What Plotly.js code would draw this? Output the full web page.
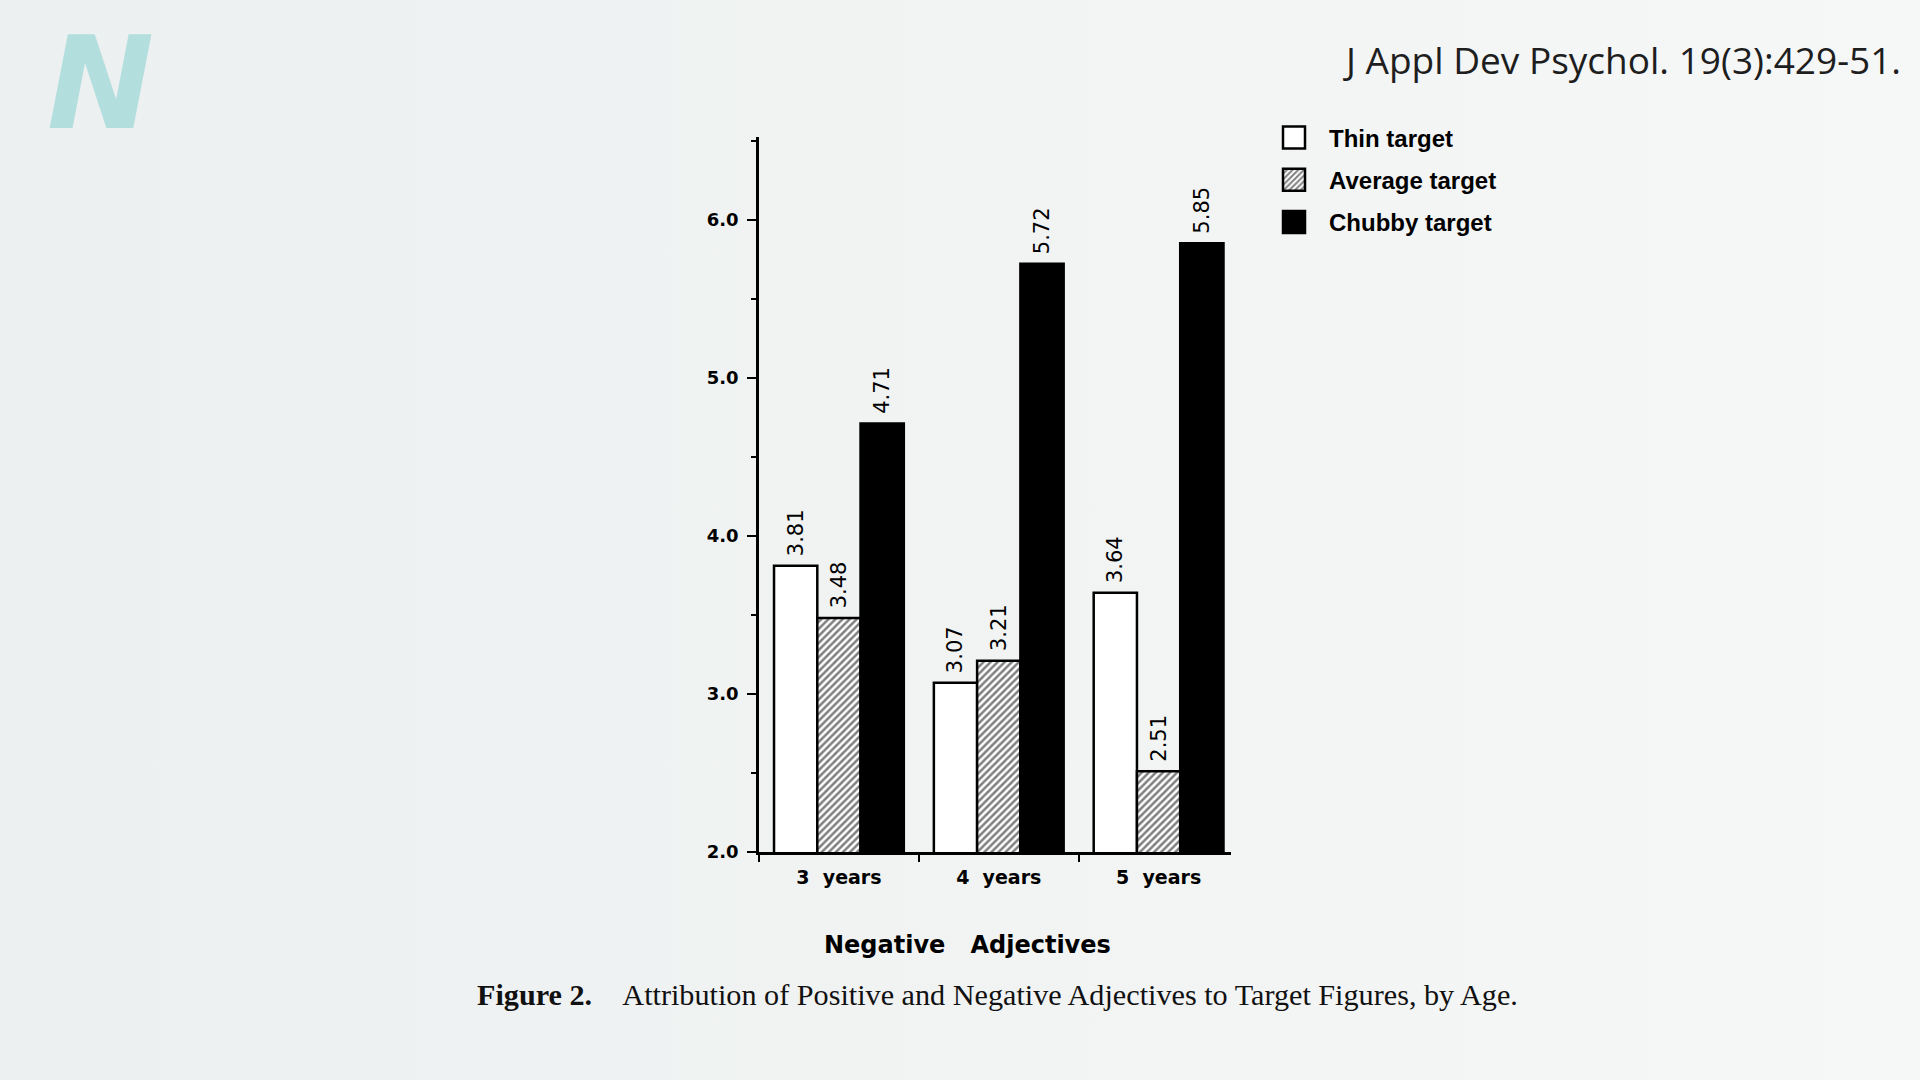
<!DOCTYPE html>
<html>
<head>
<meta charset="utf-8">
<script src="https://cdn.plot.ly/plotly-3.0.1.min.js"></script>
<style>
  html, body { margin: 0; padding: 0; }
  body { background: linear-gradient(90deg, #ecf0f0 0%, #f1f3f3 45%, #f6f7f7 100%); }
  #chart { width: 1920px; height: 1080px; }
</style>
</head>
<body>
<div id="chart"></div>
<script>
// ---- data ----
const ages = ['3\u00a0\u00a0years', '4\u00a0\u00a0years', '5\u00a0\u00a0years'];
const thinTarget = [3.81, 3.07, 3.64];
const averageTarget = [3.48, 3.21, 2.51];
const chubbyTarget = [4.71, 5.72, 5.85];
const seriesNames = ['Thin target', 'Average target', 'Chubby target'];
const yTickVals = [2, 3, 4, 5, 6];
const yTickText = ['2.0', '3.0', '4.0', '5.0', '6.0'];
const xTitle = 'Negative\u00a0\u00a0\u00a0Adjectives';

// plot area geometry (pixels)
const L = 759, R = 1231, T = 137, B = 852;
const W = R - L, H = B - T;
const px = x => (x - L) / W;
const py = y => (B - y) / H;

const labelFont = { family: 'DejaVu Sans', size: 21, color: '#000' };
const common = {
  type: 'bar',
  x: ages,
  texttemplate: '\u00a0%{y:.2f}',
  textposition: 'outside',
  textangle: -90,
  textfont: labelFont,
  constraintext: 'none',
  cliponaxis: false,
  hoverinfo: 'x+y+name'
};

const traces = [
  Object.assign({}, common, {
    name: seriesNames[0], y: thinTarget, legendgroup: 'a',
    marker: { color: '#ffffff', line: { color: '#000', width: 2.5 } }
  }),
  Object.assign({}, common, {
    name: seriesNames[1], y: averageTarget, legendgroup: 'b',
    marker: { color: '#ffffff', line: { color: '#000', width: 2.5 },
      pattern: { shape: '/', fgcolor: '#000', bgcolor: '#ffffff', size: 5, solidity: 0.5, fillmode: 'overlay' } }
  }),
  Object.assign({}, common, {
    name: seriesNames[2], y: chubbyTarget, legendgroup: 'c',
    marker: { color: '#000000', line: { color: '#000', width: 2.5 } }
  })
];

const layout = {
  width: 1920, height: 1080,
  paper_bgcolor: 'rgba(0,0,0,0)',
  plot_bgcolor: 'rgba(0,0,0,0)',
  margin: { l: L, r: 1920 - R, t: T, b: 1080 - B, pad: 0 },
  barmode: 'group',
  bargap: 0.188,
  bargroupgap: 0,
  showlegend: true,
  legend: {
    x: px(1259), y: py(115.5), xanchor: 'left', yanchor: 'top',
    font: { family: 'Liberation Sans', size: 24, color: '#000', weight: 'bold' },
    traceorder: 'grouped', tracegroupgap: 8,
    itemwidth: 60,
    bgcolor: 'rgba(0,0,0,0)', borderwidth: 0
  },
  xaxis: {
    type: 'category',
    range: [-0.5, 2.453],
    showline: true, linecolor: '#000', linewidth: 2.5,
    showgrid: false, zeroline: false,
    ticks: 'outside', tickson: 'boundaries', ticklen: 7, tickwidth: 2, tickcolor: '#000',
    ticklabelstandoff: 6,
    tickfont: { family: 'DejaVu Sans', size: 19, color: '#000', weight: 'bold' },
    automargin: false, fixedrange: true
  },
  yaxis: {
    range: [2, 2 + H / 158.1],
    showline: true, linecolor: '#000', linewidth: 2.5,
    showgrid: false, zeroline: false,
    tickmode: 'array', tickvals: yTickVals, ticktext: yTickText,
    ticks: 'outside', ticklen: 9, tickwidth: 2, tickcolor: '#000',
    ticklabelstandoff: 5,
    tickfont: { family: 'DejaVu Sans', size: 18, color: '#000', weight: 'bold' },
    minor: { dtick: 0.5, tick0: 2, ticks: 'outside', ticklen: 5, tickwidth: 2, tickcolor: '#000', showgrid: false },
    automargin: false, fixedrange: true
  },
  annotations: [
    {
      text: '<b>' + xTitle + '</b>', xref: 'paper', yref: 'paper',
      x: px(967), y: py(945), xanchor: 'center', yanchor: 'middle',
      showarrow: false,
      font: { family: 'DejaVu Sans', size: 24, color: '#000' }
    },
    {
      text: '<b><i>N</i></b>', xref: 'paper', yref: 'paper',
      x: px(100), y: py(83), xanchor: 'center', yanchor: 'middle',
      showarrow: false,
      font: { family: 'DejaVu Sans', size: 128, color: 'rgba(160,216,216,0.75)' }
    },
    {
      text: 'J Appl Dev Psychol. 19(3):429-51.', xref: 'paper', yref: 'paper',
      x: px(1903), y: py(60), xanchor: 'right', yanchor: 'middle',
      showarrow: false,
      font: { family: 'Open Sans', size: 37, color: '#1e1e1e' }
    },
    {
      text: '<b>Figure 2.</b>\u00a0\u00a0\u00a0\u00a0Attribution of Positive and Negative Adjectives to Target Figures, by Age.',
      xref: 'paper', yref: 'paper',
      x: px(475), y: py(995), xanchor: 'left', yanchor: 'middle',
      showarrow: false,
      font: { family: 'Liberation Serif', size: 30.2, color: '#111' }
    }
  ]
};

function bigSwatches() {
  document.querySelectorAll('.legendpoints path').forEach(p => {
    p.setAttribute('d', 'M11,11H-11V-11H11Z');
  });
}

const gd = document.getElementById('chart');
Plotly.newPlot(gd, traces, layout, { displayModeBar: false }).then(() => {
  bigSwatches();
  gd.on('plotly_afterplot', bigSwatches);
  setTimeout(bigSwatches, 50);
});
</script>
</body>
</html>
